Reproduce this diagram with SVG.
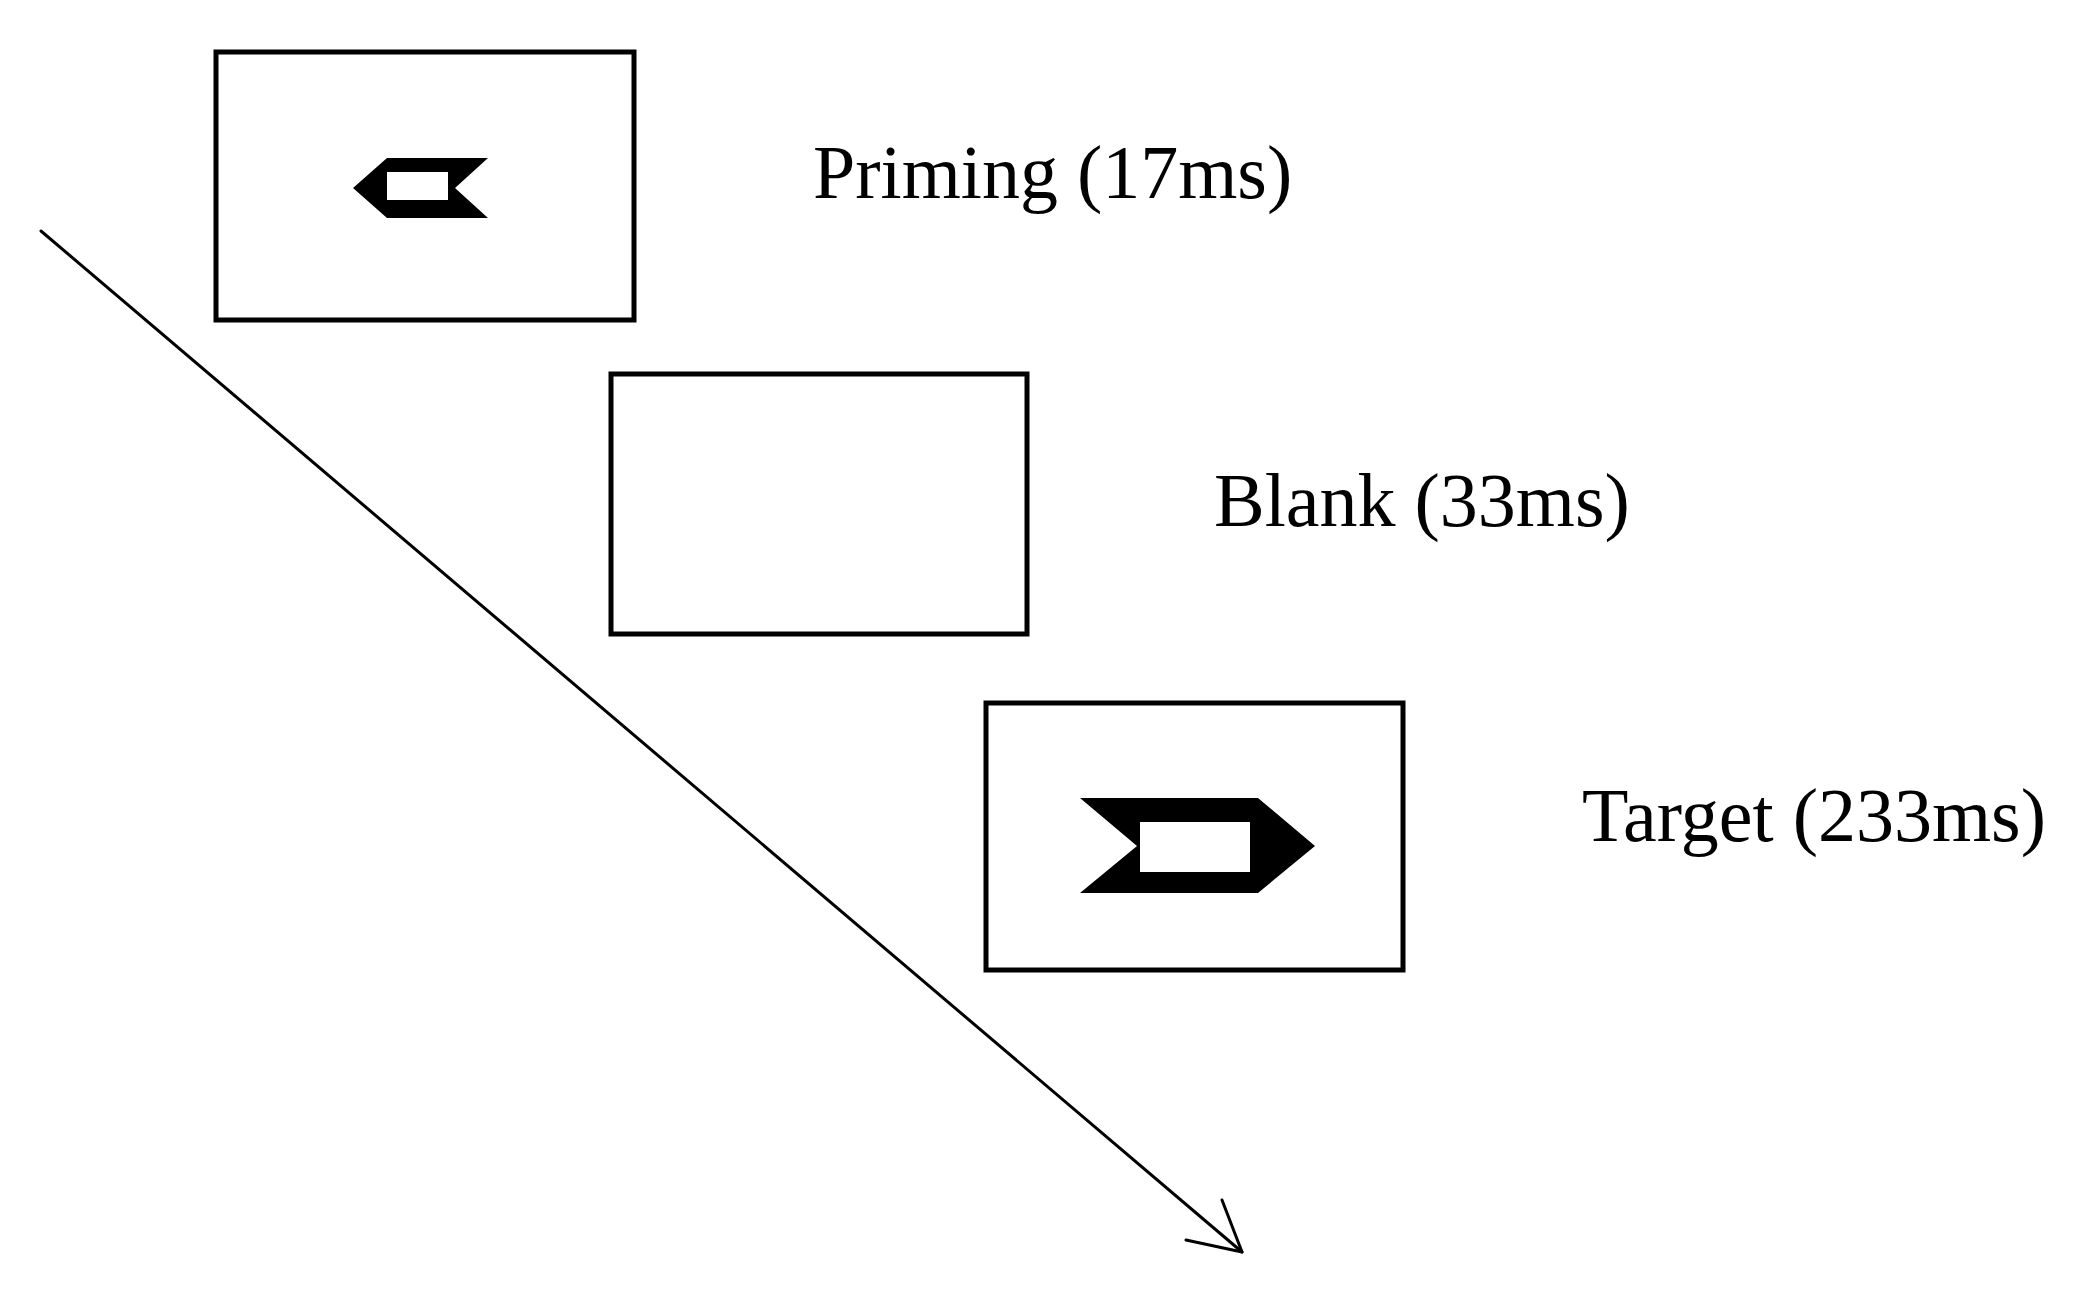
<svg xmlns="http://www.w3.org/2000/svg" width="2097" height="1295" viewBox="0 0 2097 1295">
<style>
.box{fill:#fff;stroke:#000;stroke-width:5}
.lbl{font-family:"Liberation Serif","Times New Roman",serif;font-size:76px;fill:#000}
.conn{fill:none;stroke:#000;stroke-width:3;stroke-linecap:round;stroke-linejoin:round}
</style>
<rect width="2097" height="1295" fill="#fff"/>
<g id="priming">
<rect class="box" x="216" y="52" width="418" height="268"/>
<path fill-rule="evenodd" d="M353,188 L387,158 L488,158 L455,188 L488,218 L387,218 Z M387,172 L448,172 L448,200 L387,200 Z"/>
<text class="lbl" x="813" y="198">Priming (17ms)</text>
</g>
<g id="blank">
<rect class="box" x="611" y="374" width="416" height="260"/>
<text class="lbl" x="1214" y="526">Blank (33ms)</text>
</g>
<g id="target">
<rect class="box" x="986" y="703" width="417" height="267"/>
<path fill-rule="evenodd" d="M1080,798 L1258,798 L1315,846 L1258,893 L1080,893 L1137,846 Z M1140,822 L1250,822 L1250,872 L1140,872 Z"/>
<text class="lbl" x="1582" y="841">Target (233ms)</text>
</g>
<g id="connectors">
<path class="conn" d="M41,231 L1242,1252"/>
<path class="conn" d="M1222,1200 L1242,1252 L1186,1240"/>
</g>
</svg>
